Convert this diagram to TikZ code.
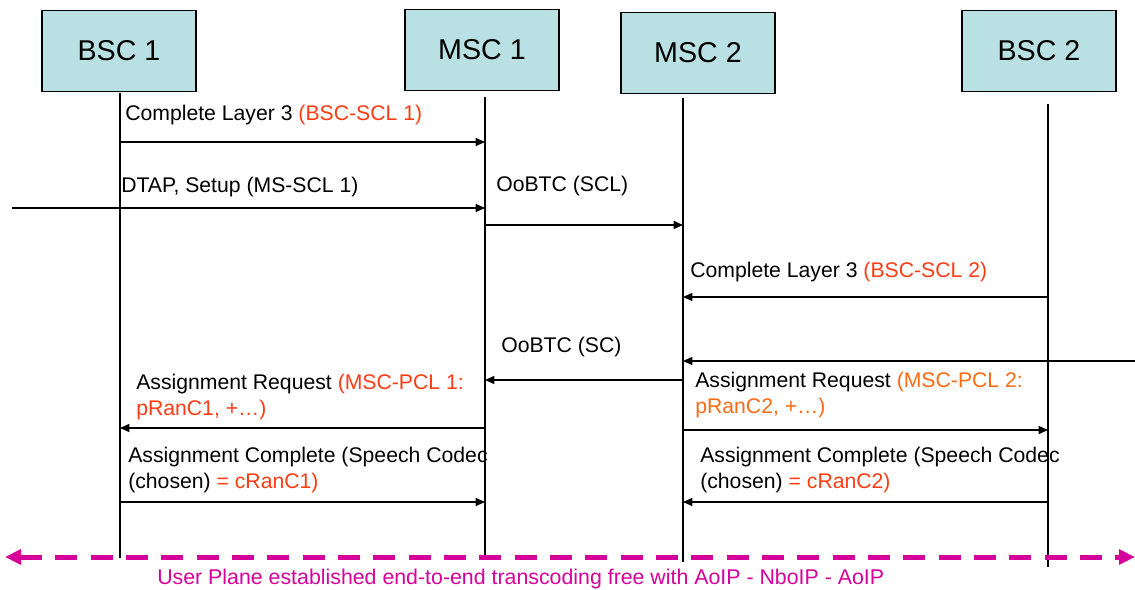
\documentclass[tikz,border=0pt]{standalone}
\usepackage{fontspec}
\setmainfont{Liberation Sans}
\usetikzlibrary{arrows.meta}
\definecolor{boxfill}{HTML}{B9E0E2}
\definecolor{pclred}{HTML}{FF3C14}
\definecolor{pclorange}{HTML}{FF6A13}
\definecolor{upmagenta}{HTML}{D6009B}

\begin{document}
\begin{tikzpicture}[x=0.75pt,y=-0.75pt,
  entity/.style={draw,fill=boxfill,line width=0.9pt,minimum width=115.5pt,minimum height=61pt,inner sep=0pt,font=\fontsize{21.5}{25}\selectfont},
  life/.style={line width=0.9pt},
  msg/.style={line width=1.1pt,-{Triangle[length=7pt,width=6pt]}},
  lbl/.style={anchor=base west,inner sep=0pt,align=left,font=\fontsize{15.9}{19.5}\selectfont}]
\useasboundingbox (0,0) rectangle (1135,589);
\node[entity] (bsc1) at (119,51) {BSC 1};
\node[entity] (msc1) at (482,50) {MSC 1};
\node[entity] (msc2) at (698,53) {MSC 2};
\node[entity] (bsc2) at (1039,51) {BSC 2};
\coordinate (bsc1top) at (120,93);
\coordinate (bsc1end) at (120,558);
\coordinate (msc1top) at (485,97);
\coordinate (msc1end) at (485,558);
\coordinate (msc2top) at (683,98);
\coordinate (msc2end) at (683,562);
\coordinate (bsc2top) at (1048,104);
\coordinate (bsc2end) at (1048,567);
\coordinate (msin) at (12,208);
\coordinate (farin) at (1135,361);
\draw[life] (bsc1top) -- (bsc1end);
\draw[life] (msc1top) -- (msc1end);
\draw[life] (msc2top) -- (msc2end);
\draw[life] (bsc2top) -- (bsc2end);

\draw[msg] (bsc1top |- 0,142) -- (msc1top |- 0,142);
\node[lbl] (cl3a) at (125,120) {Complete Layer 3 \textcolor{pclred}{(BSC-SCL 1)}};
\draw[msg] (msin) -- (msc1top |- msin);
\node[lbl] (dtap) at (121,192) {DTAP, Setup (MS-SCL 1)};
\draw[msg] (msc1top |- 0,225) -- (msc2top |- 0,225);
\node[lbl] (oobtcscl) at (496,191) {OoBTC (SCL)};
\draw[msg] (bsc2top |- 0,297) -- (msc2top |- 0,297);
\node[lbl] (cl3b) at (690,277) {Complete Layer 3 \textcolor{pclred}{(BSC-SCL 2)}};
\draw[msg] (farin) -- (msc2top |- farin);
\draw[msg] (msc2top |- 0,380) -- (msc1top |- 0,380);
\node[lbl] (oobtcsc) at (501,352) {OoBTC (SC)};
\draw[msg] (msc1top |- 0,428) -- (bsc1top |- 0,428);
\node[lbl] (asreqa) at (136,415) {Assignment Request \textcolor{pclred}{(MSC-PCL 1:}\\\textcolor{pclred}{pRanC1, +…)}};
\draw[msg] (msc2top |- 0,430) -- (bsc2top |- 0,430);
\node[lbl] (asreqb) at (695,413) {Assignment Request \textcolor{pclorange}{(MSC-PCL 2:}\\\textcolor{pclorange}{pRanC2, +…)}};
\draw[msg] (bsc1top |- 0,502) -- (msc1top |- 0,502);
\node[lbl] (ascmpa) at (128,488) {Assignment Complete (Speech Codec\\(chosen) \textcolor{pclred}{= cRanC1)}};
\draw[msg] (bsc2top |- 0,502) -- (msc2top |- 0,502);
\node[lbl] (ascmpb) at (700,488) {Assignment Complete (Speech Codec\\(chosen) \textcolor{pclred}{= cRanC2)}};

\coordinate (upwest) at (5,557);
\coordinate (upeast) at (1135,557);
\draw[upmagenta,line width=3.75pt,dash pattern=on 16.5pt off 10pt,{Triangle[length=12pt,width=11pt]}-{Triangle[length=12pt,width=11pt]}] (upwest) -- (upeast);
\node[lbl,text=upmagenta,font=\fontsize{16}{19}\selectfont] (upnote) at (157,584) {User Plane established end-to-end transcoding free with AoIP - NboIP - AoIP};
\end{tikzpicture}
\end{document}
